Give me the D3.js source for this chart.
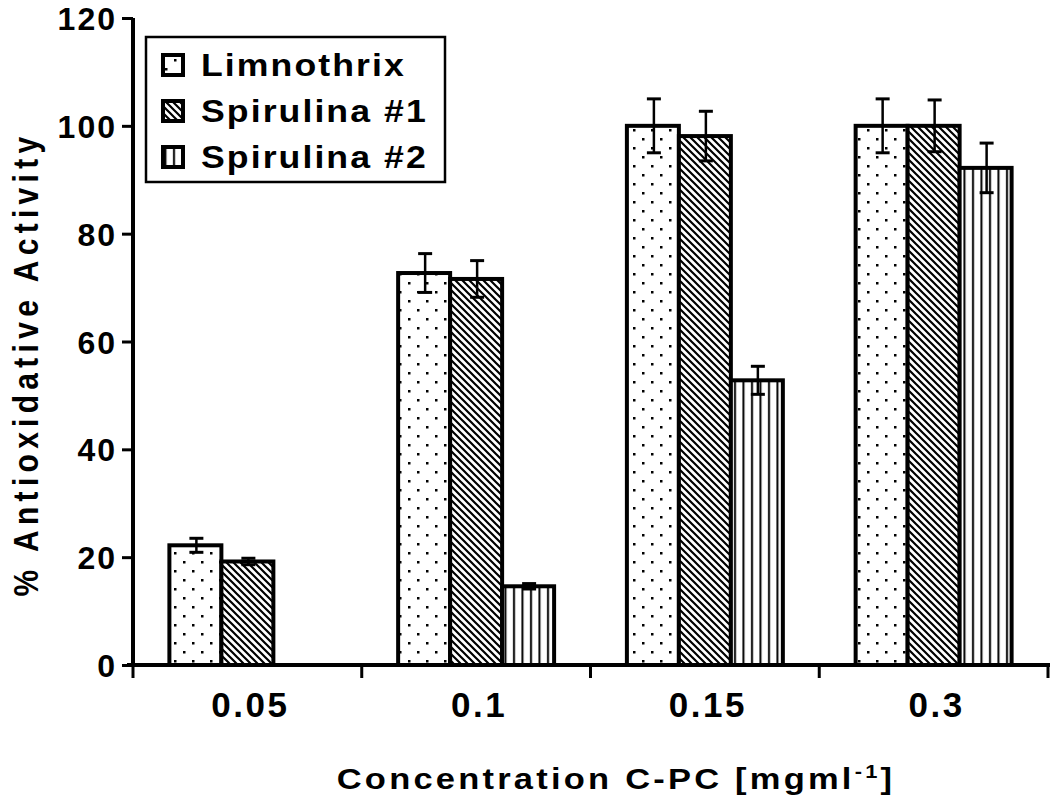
<!DOCTYPE html>
<html>
<head>
<meta charset="utf-8">
<script src="https://cdn.jsdelivr.net/npm/d3@7"></script>
<style>
  html, body { margin: 0; padding: 0; background: #fff; }
  svg { display: block; }
  text { font-family: "Liberation Sans", Arial, sans-serif; font-weight: bold; fill: #000; }
</style>
</head>
<body>
<svg id="chart" width="1050" height="802"></svg>
<script>
// ---- data ----
const categories = ["0.05", "0.1", "0.15", "0.3"];
const seriesNames = ["Limnothrix", "Spirulina #1", "Spirulina #2"];
const limnothrix = [22.2, 72.7, 100, 100];
const spirulina1 = [19.2, 71.6, 98.1, 100];
const spirulina2 = [null, 14.6, 52.8, 92.2];
const errLimnothrix = [1.3, 3.6, 5.0, 5.0];
const errSpirulina1 = [0.6, 3.4, 4.6, 4.8];
const errSpirulina2 = [null, 0.5, 2.6, 4.6];
const yTicks = [0, 20, 40, 60, 80, 100, 120];
const xTitle = "Concentration C-PC [mgml";
const xTitleSup = "-1";
const yTitle = "% Antioxidative Activity";

const seriesValues = [limnothrix, spirulina1, spirulina2];
const seriesErrors = [errLimnothrix, errSpirulina1, errSpirulina2];
const patternIds = ["pDots", "pDiag", "pVert"];

// ---- layout ----
const svg = d3.select("#chart");
const plotLeft = 133, plotRight = 1048, plotTop = 18, plotBottom = 665;

const x = d3.scaleBand().domain(categories).range([plotLeft, plotRight]).paddingInner(0).paddingOuter(0);
const xi = d3.scaleBand().domain(seriesNames).range([0, x.bandwidth()]).paddingInner(0).paddingOuter(0.7);
const y = d3.scaleLinear().domain([0, 120]).range([plotBottom, plotTop]);

// ---- patterns ----
const defs = svg.append("defs");
const pd = defs.append("pattern").attr("id", "pDots").attr("patternUnits", "userSpaceOnUse")
  .attr("width", 18).attr("height", 18);
pd.append("rect").attr("width", 18).attr("height", 18).attr("fill", "#fff");
pd.append("rect").attr("x", 3).attr("y", 3).attr("width", 2.5).attr("height", 2.5).attr("fill", "#000");
pd.append("rect").attr("x", 12).attr("y", 12).attr("width", 2.5).attr("height", 2.5).attr("fill", "#000");

const pg = defs.append("pattern").attr("id", "pDiag").attr("patternUnits", "userSpaceOnUse")
  .attr("width", 7).attr("height", 7);
pg.append("rect").attr("width", 7).attr("height", 7).attr("fill", "#fff");
pg.append("path").attr("d", "M-1,-1 L8,8 M-1,6 L1,8 M6,-1 L8,1")
  .attr("stroke", "#000").attr("stroke-width", 2.2);

const pv = defs.append("pattern").attr("id", "pVert").attr("patternUnits", "userSpaceOnUse")
  .attr("width", 8.5).attr("height", 10);
pv.append("rect").attr("width", 8.5).attr("height", 10).attr("fill", "#fff");
pv.append("rect").attr("x", 3).attr("y", 0).attr("width", 2).attr("height", 10).attr("fill", "#000");

// ---- bars ----
const barData = [];
categories.forEach((c, ci) => {
  seriesNames.forEach((s, si) => {
    const v = seriesValues[si][ci];
    if (v !== null && v !== undefined) {
      barData.push({ c, s, si, v, e: seriesErrors[si][ci] });
    }
  });
});

const gBars = svg.append("g");
gBars.selectAll("rect.bar").data(barData).join("rect")
  .attr("class", "bar")
  .attr("x", d => x(d.c) + xi(d.s))
  .attr("y", d => y(d.v))
  .attr("width", xi.bandwidth())
  .attr("height", d => y(0) - y(d.v))
  .attr("fill", d => `url(#${patternIds[d.si]})`)
  .attr("stroke", "#000")
  .attr("stroke-width", 4);

// ---- error bars ----
const gErr = svg.append("g").attr("stroke", "#000");
const capW = 14;
barData.forEach(d => {
  const cx = x(d.c) + xi(d.s) + xi.bandwidth() / 2 + 1;
  const y1 = y(d.v + d.e), y2 = y(d.v - d.e);
  gErr.append("line").attr("x1", cx).attr("x2", cx).attr("y1", y1).attr("y2", y2).attr("stroke-width", 2.5);
  gErr.append("line").attr("x1", cx - capW / 2).attr("x2", cx + capW / 2).attr("y1", y1).attr("y2", y1).attr("stroke-width", 3);
  gErr.append("line").attr("x1", cx - capW / 2).attr("x2", cx + capW / 2).attr("y1", y2).attr("y2", y2).attr("stroke-width", 3);
});

// ---- axes ----
const yAxis = d3.axisLeft(y).tickValues(yTicks).tickSize(11).tickPadding(5).tickFormat(d3.format("d"));
const gy = svg.append("g").attr("transform", `translate(${plotLeft},0)`).call(yAxis);
gy.select(".domain").attr("stroke-width", 4).attr("d", `M0,${plotTop}V${plotBottom + 2}`);
gy.selectAll(".tick line").attr("stroke-width", 3);
gy.selectAll(".tick text").attr("font-size", 32).attr("letter-spacing", 2)
  .attr("font-family", '"Liberation Sans", Arial, sans-serif').attr("font-weight", "bold").attr("dy", "0.36em");

const gx = svg.append("g").attr("transform", `translate(0,${plotBottom})`);
gx.append("line").attr("x1", plotLeft - 6).attr("x2", plotRight + 2).attr("y1", 0).attr("y2", 0)
  .attr("stroke", "#000").attr("stroke-width", 4);
const boundaries = categories.map(c => x(c)).concat([x(categories[categories.length - 1]) + x.bandwidth()]);
gx.selectAll("line.bt").data(boundaries).join("line").attr("class", "bt")
  .attr("x1", d => d).attr("x2", d => d).attr("y1", 0).attr("y2", 13)
  .attr("stroke", "#000").attr("stroke-width", 3);
gx.selectAll("text.xl").data(categories).join("text").attr("class", "xl")
  .attr("x", d => x(d) + x.bandwidth() / 2 + 3)
  .attr("y", 52)
  .attr("text-anchor", "middle")
  .attr("font-size", 35).attr("letter-spacing", 2.5)
  .text(d => d);

// ---- axis titles ----
const xt = svg.append("g").attr("transform", "translate(616,789) scale(1.15,1)")
  .append("text").attr("x", 0).attr("y", 0).attr("text-anchor", "middle")
  .attr("font-size", 30).attr("letter-spacing", 2.8);
xt.append("tspan").text(xTitle);
xt.append("tspan").attr("font-size", 19).attr("dy", -11).text(xTitleSup);
xt.append("tspan").attr("dy", 11).text("]");

svg.append("g").attr("transform", "translate(38,364) rotate(-90) scale(1,1.15)")
  .append("text").attr("text-anchor", "middle")
  .attr("font-size", 30).attr("letter-spacing", 5.3).text(yTitle);

// ---- legend ----
const lg = svg.append("g");
lg.append("rect").attr("x", 146).attr("y", 37).attr("width", 299).attr("height", 145)
  .attr("fill", "#fff").attr("stroke", "#000").attr("stroke-width", 2.5);
const legendRows = lg.selectAll("g.row").data(seriesNames).join("g").attr("class", "row")
  .attr("transform", (d, i) => `translate(0,${65 + i * 46})`);
legendRows.append("rect").attr("x", 163).attr("y", -10).attr("width", 20).attr("height", 20)
  .attr("fill", (d, i) => `url(#${patternIds[i]})`).attr("stroke", "#000").attr("stroke-width", 4);
legendRows.append("g").attr("transform", "translate(201,11) scale(1.15,1)")
  .append("text").attr("font-size", 31).attr("letter-spacing", 1.8)
  .text(d => d);
</script>
</body>
</html>
